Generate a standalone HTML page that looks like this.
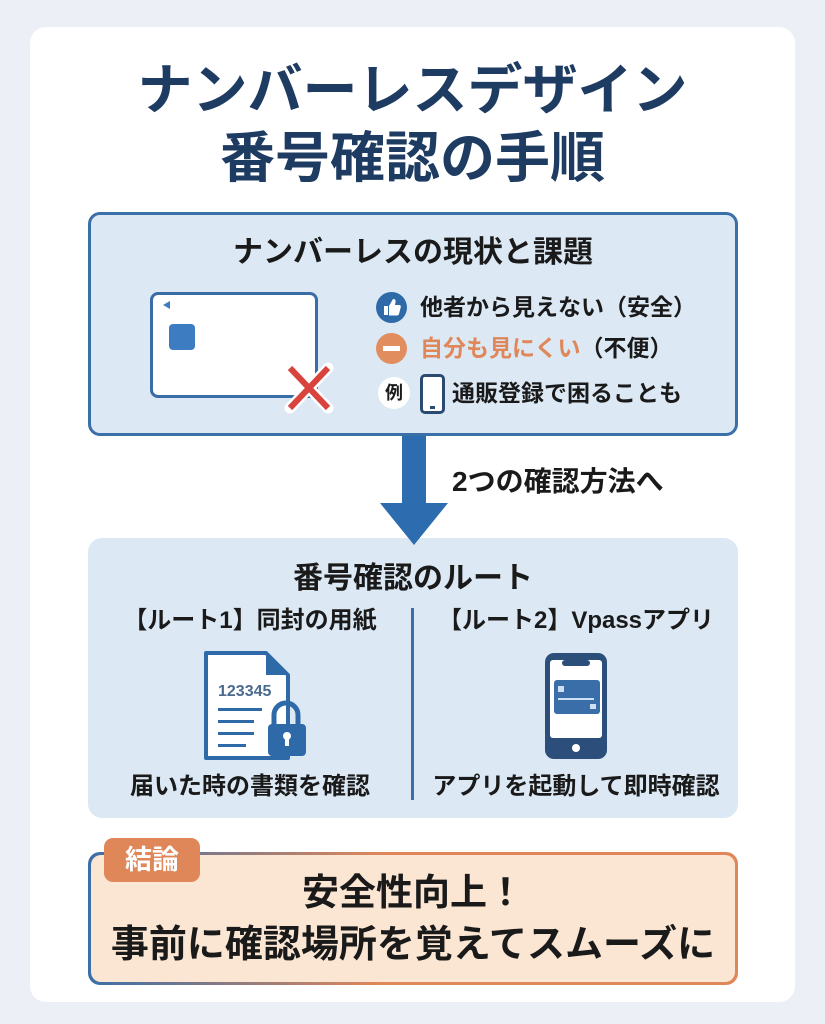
<!DOCTYPE html>
<html><head><meta charset="utf-8"><style>
*{margin:0;padding:0;box-sizing:border-box}
body{width:825px;height:1024px;background:#eceff5;position:relative;overflow:hidden;font-family:"Liberation Sans","Noto Sans CJK JP",sans-serif;font-weight:bold;color:#1a1a1a}
.a{position:absolute}
.c{text-align:center;white-space:nowrap}
</style></head><body>
<div class="a" style="left:30px;top:27px;width:765px;height:975px;background:#fff;border-radius:16px"></div>
<div class="a c" style="left:0;width:825px;top:58px;font-size:55px;line-height:64px;color:#1e3b62">ナンバーレスデザイン</div>
<div class="a c" style="left:0;width:825px;top:126px;font-size:55px;line-height:64px;color:#1e3b62">番号確認の手順</div>

<div class="a" style="left:88px;top:212px;width:650px;height:224px;background:#dce9f5;border:3px solid #3a6fa8;border-radius:12px"></div>
<div class="a c" style="left:88px;width:650px;top:234px;font-size:30px;line-height:38px">ナンバーレスの現状と課題</div>
<div class="a" style="left:150px;top:292px;width:168px;height:106px;background:#fff;border:3px solid #3a6da5;border-radius:8px"></div>
<div class="a" style="left:163px;top:301px;width:0;height:0;border-top:4px solid transparent;border-bottom:4px solid transparent;border-right:7px solid #3d7cc0"></div>
<div class="a" style="left:169px;top:324px;width:26px;height:26px;background:#3d7cc0;border-radius:4px"></div>
<svg class="a" style="left:284px;top:362px" width="50" height="52"><path d="M6 6L44 46M44 6L6 46" stroke="#fff" stroke-width="11" stroke-linecap="round"/><path d="M6 6L44 46M44 6L6 46" stroke="#d9433e" stroke-width="6"/></svg>

<svg class="a" style="left:376px;top:292px" width="31" height="31"><circle cx="15.5" cy="15.5" r="15.5" fill="#2f6aa8"/><rect x="8" y="14" width="4" height="9" fill="#fff"/><path d="M13 14L17 7c2 0 3 1 2.5 3L19 13h4c1.5 0 2 1 1.8 2L23 22c-.3 1-1 1.5-2 1.5H13Z" fill="#fff"/></svg>
<div class="a" style="left:420px;top:291px;font-size:23px;line-height:32px;white-space:nowrap">他者から見えない（安全）</div>
<div class="a" style="left:376px;top:333px;width:31px;height:31px;border-radius:50%;background:#e28d5d"></div>
<div class="a" style="left:383px;top:346px;width:17px;height:5px;background:#fff"></div>
<div class="a" style="left:420px;top:332px;font-size:23px;line-height:32px;white-space:nowrap"><span style="color:#e0875a">自分も見にくい</span>（不便）</div>
<div class="a" style="left:378px;top:377px;width:32px;height:32px;border-radius:50%;background:#fff;font-size:18px;line-height:32px;text-align:center">例</div>
<div class="a" style="left:420px;top:374px;width:25px;height:40px;border:3px solid #2b4a70;border-radius:5px;background:#fff"></div>
<div class="a" style="left:430px;top:406px;width:5px;height:3px;background:#2b4a70"></div>
<div class="a" style="left:452px;top:377px;font-size:23px;line-height:32px;white-space:nowrap">通販登録で困ることも</div>

<div class="a" style="left:402px;top:436px;width:24px;height:68px;background:#2e6cb0"></div>
<div class="a" style="left:380px;top:503px;width:0;height:0;border-left:34px solid transparent;border-right:34px solid transparent;border-top:42px solid #2e6cb0;z-index:2"></div>
<div class="a" style="left:452px;top:465px;font-size:28px;line-height:34px;white-space:nowrap">2つの確認方法へ</div>

<div class="a" style="left:88px;top:538px;width:650px;height:280px;background:#dce9f5;border-radius:14px"></div>
<div class="a c" style="left:88px;width:650px;top:560px;font-size:30px;line-height:38px">番号確認のルート</div>
<div class="a" style="left:411px;top:608px;width:3px;height:192px;background:#3a6fa8"></div>
<div class="a c" style="left:88px;width:324px;top:605px;font-size:24px;line-height:32px">【ルート1】同封の用紙</div>
<div class="a c" style="left:414px;width:324px;top:605px;font-size:24px;line-height:32px">【ルート2】Vpassアプリ</div>
<svg class="a" style="left:200px;top:650px" width="110" height="115">
<path d="M6 3H66L88 25V108H6Z" fill="#fff" stroke="#2f6aa8" stroke-width="4" stroke-linejoin="round"/>
<path d="M66 3V25H88Z" fill="#2f6aa8"/>
<text x="18" y="46" font-family="Liberation Sans" font-size="16" fill="#4a6a90" font-weight="bold">123345</text>
<rect x="18" y="58" width="44" height="3" fill="#2f6aa8"/><rect x="18" y="70" width="36" height="3" fill="#2f6aa8"/><rect x="18" y="82" width="36" height="3" fill="#2f6aa8"/><rect x="18" y="94" width="28" height="3" fill="#2f6aa8"/>
<path d="M74 75V65a12 12 0 0 1 24 0V75" fill="none" stroke="#2f6aa8" stroke-width="5"/>
<rect x="68" y="74" width="38" height="32" rx="4" fill="#2f6aa8"/>
<circle cx="87" cy="86" r="4" fill="#fff"/><rect x="85" y="86" width="4" height="10" fill="#fff"/>
</svg>
<svg class="a" style="left:540px;top:650px" width="72" height="112">
<rect x="5" y="3" width="62" height="106" rx="9" fill="#2b4f7a"/>
<rect x="10" y="10" width="52" height="78" rx="3" fill="#fff"/>
<rect x="22" y="10" width="28" height="6" rx="3" fill="#2b4f7a"/>
<circle cx="36" cy="98" r="4" fill="#fff"/>
<rect x="14" y="30" width="46" height="34" rx="3" fill="#3a6ea8"/>
<rect x="18" y="36" width="6" height="6" fill="#cfe0f3"/><rect x="50" y="54" width="6" height="5" fill="#cfe0f3"/>
<rect x="18" y="48" width="36" height="2" fill="#cfe0f3"/>
</svg>
<div class="a c" style="left:88px;width:324px;top:771px;font-size:24px;line-height:32px">届いた時の書類を確認</div>
<div class="a c" style="left:414px;width:324px;top:771px;font-size:24px;line-height:32px">アプリを起動して即時確認</div>

<div class="a" style="left:88px;top:852px;width:650px;height:133px;border-radius:12px;background:linear-gradient(90deg,#3a6fa8,#e0875a 45%,#e0875a)"></div>
<div class="a" style="left:91px;top:855px;width:644px;height:127px;border-radius:10px;background:#fbe6d3"></div>
<div class="a c" style="left:104px;top:838px;width:96px;height:44px;background:#e0875a;border-radius:9px;color:#fff;font-size:27px;line-height:44px">結論</div>
<div class="a c" style="left:88px;width:650px;top:870px;font-size:37px;line-height:46px">安全性向上！</div>
<div class="a c" style="left:88px;width:650px;top:921px;font-size:38px;line-height:48px">事前に確認場所を覚えてスムーズに</div>
</body></html>
